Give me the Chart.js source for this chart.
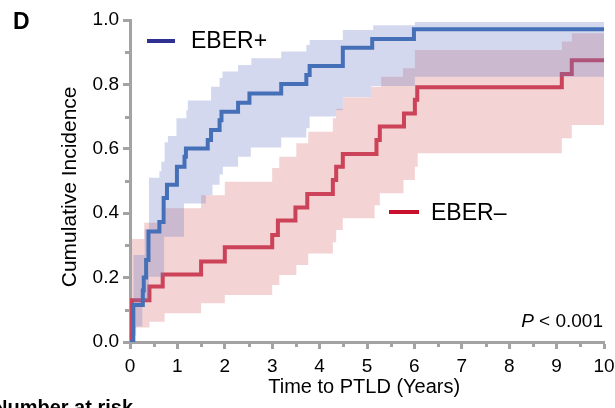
<!DOCTYPE html>
<html><head><meta charset="utf-8">
<script src="https://cdn.jsdelivr.net/npm/chart.js@4"></script>
<style>html,body{margin:0;padding:0;overflow:hidden;background:#fff}#wrap{width:640px;height:408px}</style>
</head><body><div id="wrap"><canvas id="c" width="640" height="408"></canvas></div>
<script>
// ---- data (years, cumulative incidence) ----
const posTimes = [0, 0.07, 0.27, 0.29, 0.34, 0.39, 0.62, 0.71, 0.78, 0.99, 1.15, 1.18, 1.64, 1.71, 1.89, 1.93, 2.28, 2.52, 3.19, 3.72, 3.79, 4.49, 5.11, 5.99, 10];
const posInc   = [0, 0.115, 0.16, 0.2, 0.255, 0.343, 0.373, 0.447, 0.488, 0.544, 0.575, 0.601, 0.627, 0.658, 0.689, 0.715, 0.743, 0.772, 0.801, 0.829, 0.857, 0.914, 0.941, 0.971, 0.971];
const posHiTimes = [0.07, 0.31, 0.40, 0.62, 0.66, 0.73, 0.80, 0.98, 1.19, 1.22, 1.71, 1.89, 1.95, 2.28, 2.56, 3.19, 3.72, 3.79, 4.49, 5.13, 6.01, 10];
const posHi      = [0.27, 0.35, 0.51, 0.53, 0.56, 0.62, 0.64, 0.695, 0.72, 0.75, 0.793, 0.82, 0.84, 0.86, 0.881, 0.902, 0.922, 0.938, 0.969, 0.984, 0.994, 0.994];
const posLoTimes = [0.07, 0.13, 0.26, 0.40, 0.72, 1.14, 1.60, 1.74, 1.89, 1.96, 2.28, 2.55, 3.19, 3.72, 3.79, 4.35, 4.49, 5.09, 6.01, 10];
const posLo      = [0.02, 0.048, 0.13, 0.203, 0.327, 0.43, 0.456, 0.488, 0.52, 0.544, 0.575, 0.604, 0.635, 0.664, 0.70, 0.72, 0.761, 0.795, 0.824, 0.824];

const negTimes = [0, 0.04, 0.41, 0.69, 1.50, 2.00, 3.00, 3.12, 3.49, 3.74, 4.28, 4.35, 4.49, 5.20, 5.27, 5.78, 6.01, 6.06, 9.11, 9.32, 10];
const negInc   = [0, 0.13, 0.172, 0.21, 0.25, 0.294, 0.332, 0.377, 0.418, 0.46, 0.503, 0.544, 0.584, 0.627, 0.669, 0.71, 0.752, 0.791, 0.832, 0.875, 0.875];
const negHiTimes = [0.04, 0.30, 0.76, 1.50, 2.00, 3.00, 3.15, 3.51, 3.76, 4.28, 4.35, 4.49, 5.09, 5.30, 5.76, 6.01, 9.11, 9.32, 10];
const negHi      = [0.32, 0.37, 0.415, 0.456, 0.498, 0.54, 0.575, 0.617, 0.653, 0.695, 0.724, 0.76, 0.793, 0.824, 0.85, 0.907, 0.933, 0.959, 0.959];
const negLoTimes = [0.04, 0.41, 0.73, 1.50, 2.00, 3.00, 3.15, 3.51, 3.76, 4.28, 4.35, 4.49, 5.16, 5.27, 5.77, 6.01, 6.07, 9.11, 9.32, 10];
const negLo      = [0.045, 0.063, 0.089, 0.12, 0.146, 0.177, 0.208, 0.239, 0.275, 0.31, 0.348, 0.384, 0.425, 0.462, 0.503, 0.544, 0.586, 0.633, 0.674, 0.674];

const yTicks = [0, 0.2, 0.4, 0.6, 0.8, 1.0];
const yMinorTicks = [0.1, 0.3, 0.5, 0.7, 0.9];
const xTicks = [0, 1, 2, 3, 4, 5, 6, 7, 8, 9, 10];
const xMinorTicks = [0.5, 1.5, 2.5, 3.5, 4.5, 5.5, 6.5, 7.5, 8.5, 9.5];
const seriesNames = ['EBER+', 'EBER\u2013'];

// ---- styling ----
const FONT = "'Liberation Sans', Arial, Helvetica, sans-serif";
const GRAY = '#a3a3a3';
const BLUE = '#4570b8', BLUE_BAND = 'rgba(110,125,200,0.30)', BLUE_LEG = '#2e3192';
const RED = '#cc4258', RED_BAND = 'rgba(220,120,120,0.33)', RED_LEG = '#c8102e';

const zip = (t, v) => t.map((x, i) => ({x, y: v[i]}));
const lineDs = (data, color, order) => ({data, borderColor: color, borderWidth: 4, stepped: 'before', pointRadius: 0, fill: false, order, borderCapStyle: 'butt', borderJoinStyle: 'miter'});
const bandDs = (data, bg, target, order) => ({data, borderColor: 'transparent', borderWidth: 0, backgroundColor: bg, stepped: 'before', pointRadius: 0, fill: target === null ? false : {target}, order});

const overlay = {
  id: 'overlay',
  afterDraw(chart) {
    const ctx = chart.ctx, xs = chart.scales.x, ys = chart.scales.y, ca = chart.chartArea;
    ctx.save();
    // minor ticks
    ctx.strokeStyle = GRAY; ctx.lineWidth = 3;
    ctx.beginPath();
    yMinorTicks.forEach(v => { const py = Math.round(ys.getPixelForValue(v)) + 0.5; ctx.moveTo(ca.left - 1, py); ctx.lineTo(ca.left - 5, py); });
    xMinorTicks.forEach(v => { const px = Math.round(xs.getPixelForValue(v)) + 0.5; ctx.moveTo(px, ca.bottom + 1); ctx.lineTo(px, ca.bottom + 5); });
    ctx.stroke();
    // legends
    ctx.lineWidth = 4;
    ctx.strokeStyle = BLUE_LEG; ctx.beginPath(); ctx.moveTo(147, 41); ctx.lineTo(175, 41); ctx.stroke();
    ctx.strokeStyle = RED_LEG; ctx.beginPath(); ctx.moveTo(389, 212); ctx.lineTo(419, 212); ctx.stroke();
    ctx.fillStyle = '#000'; ctx.textBaseline = 'alphabetic'; ctx.textAlign = 'left';
    ctx.font = "23px " + FONT;
    ctx.fillText(seriesNames[0], 191, 48);
    ctx.fillText(seriesNames[1], 431, 220);
    // panel letter
    ctx.font = "bold 23px " + FONT;
    ctx.fillText('D', 13, 29);
    // p-value
    ctx.font = "19px " + FONT;
    const rest = ' < 0.001';
    const wRest = ctx.measureText(rest).width;
    ctx.font = "italic 19px " + FONT;
    const wP = ctx.measureText('P').width;
    const right = 603;
    ctx.fillText('P', right - wRest - wP, 327);
    ctx.font = "19px " + FONT;
    ctx.fillText(rest, right - wRest, 327);
    // number at risk (cut off)
    ctx.font = "bold 20px " + FONT;
    ctx.fillText('Number at risk', -7, 414);
    ctx.restore();
  }
};

new Chart(document.getElementById('c'), {
  type: 'line',
  data: {
    datasets: [
      lineDs(zip(posTimes, posInc), BLUE, 0),
      bandDs(zip(posHiTimes, posHi), BLUE_BAND, 2, 1),
      bandDs(zip(posLoTimes, posLo), BLUE_BAND, null, 1),
      lineDs(zip(negTimes, negInc), RED, 2),
      bandDs(zip(negHiTimes, negHi), RED_BAND, 5, 3),
      bandDs(zip(negLoTimes, negLo), RED_BAND, null, 3)
    ]
  },
  options: {
    responsive: false, animation: false, devicePixelRatio: 1,
    layout: {padding: {left: 0, right: 36, top: 20, bottom: 0}},
    plugins: {legend: {display: false}, tooltip: {enabled: false}},
    scales: {
      x: {
        type: 'linear', min: 0, max: 10,
        afterBuildTicks: s => { s.ticks = xTicks.map(v => ({value: v})); },
        ticks: {color: '#000', font: {family: FONT, size: 19}, padding: 6, maxRotation: 0, autoSkip: false, callback: v => String(v)},
        grid: {drawOnChartArea: false, drawTicks: true, tickLength: 7, tickWidth: 3, tickColor: GRAY},
        border: {display: true, color: GRAY, width: 3},
        title: {display: true, text: 'Time to PTLD (Years) ', color: '#000', font: {family: FONT, size: 20}, padding: {top: 0, bottom: 9}},
        afterFit: s => { s.height = 66; }
      },
      y: {
        type: 'linear', min: 0, max: 1,
        afterBuildTicks: s => { s.ticks = yTicks.map(v => ({value: v})); },
        ticks: {color: '#000', font: {family: FONT, size: 19}, padding: 4, callback: v => Number(v).toFixed(1)},
        grid: {drawOnChartArea: false, drawTicks: true, tickLength: 7, tickWidth: 3, tickColor: GRAY},
        border: {display: true, color: GRAY, width: 3},
        title: {display: true, text: 'Cumulative Incidence  ', color: '#000', font: {family: FONT, size: 21}, padding: {top: 58, bottom: 0}},
        afterFit: s => { s.width = 130; }
      }
    },
    elements: {point: {radius: 0}, line: {tension: 0}}
  },
  plugins: [overlay]
});
</script>
</body></html>
